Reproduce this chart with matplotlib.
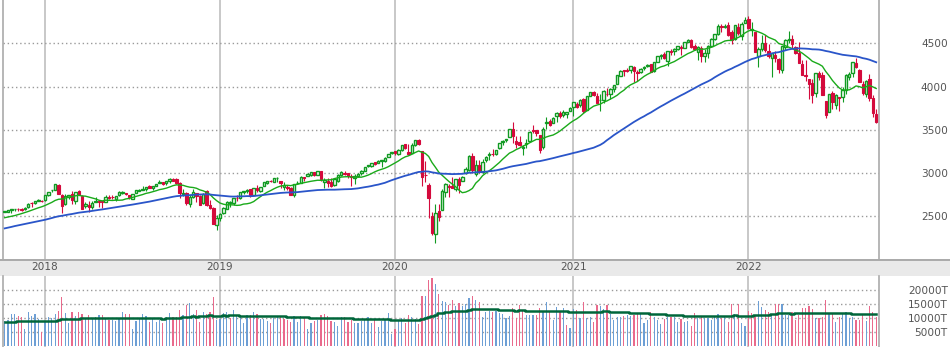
import matplotlib
matplotlib.use("Agg")
import matplotlib.pyplot as plt
import matplotlib.transforms as mtransforms
from matplotlib.patches import Rectangle
from matplotlib.lines import Line2D
import numpy as np
import pandas as pd

# weekly candles, week of 2017-10-09 .. week of 2022-09-26
opens = [
    2551, 2554, 2578, 2583, 2588, 2580, 2580, 2603, 2657, 2652, 2680, 2683,
    2684, 2746, 2799, 2810, 2867, 2741, 2637, 2722, 2757, 2681, 2790, 2740, 2619, 2634, 2612, 2670, 2675, 2675,
    2671, 2722, 2725, 2705, 2741, 2775, 2764, 2742, 2704, 2769, 2796, 2804, 2819, 2849, 2827, 2853, 2885, 2897,
    2881, 2903, 2926, 2926, 2886, 2763, 2773, 2641, 2726, 2773, 2730, 2649, 2790, 2630, 2591, 2401,
    2476, 2535, 2584, 2652, 2659, 2712, 2712, 2780, 2792, 2814, 2747, 2830, 2797, 2849, 2888, 2912, 2898, 2941,
    2908, 2840, 2841, 2832, 2752, 2885, 2886, 2952, 2971, 2980, 3017, 2981, 3024, 2898, 2907, 2901, 2867, 2910,
    2981, 2996, 2997, 2968, 2945, 2966, 2997, 3029, 3078, 3081, 3123, 3117, 3143, 3141, 3183, 3227,
    3250, 3218, 3271, 3334, 3248, 3236, 3319, 3380, 3258, 2974, 2864, 2509, 2291, 2558, 2579, 2782, 2846, 2854,
    2815, 2937, 2913, 3005, 3038, 3199, 2994, 3094, 3018, 3155, 3205, 3225, 3219, 3288, 3356, 3380, 3419, 3509,
    3371, 3364, 3285, 3334, 3367, 3500, 3493, 3441, 3296, 3584, 3600, 3579, 3654, 3694, 3675, 3684, 3723,
    3764, 3803, 3782, 3856, 3732, 3892, 3939, 3886, 3842, 3844, 3914, 3917, 3969, 4034, 4124, 4185, 4186, 4192,
    4229, 4169, 4168, 4216, 4232, 4255, 4174, 4285, 4356, 4372, 4296, 4410, 4407, 4438, 4462, 4450, 4514, 4536,
    4474, 4402, 4450, 4348, 4385, 4474, 4553, 4610, 4702, 4689, 4712, 4634, 4548, 4688, 4588, 4733,
    4778, 4656, 4632, 4357, 4432, 4506, 4412, 4333, 4363, 4322, 4188, 4462, 4541, 4548, 4462, 4385, 4255, 4131,
    4082, 4041, 3920, 4151, 4134, 3838, 3702, 3920, 3792, 3880, 3883, 3965, 4112, 4158, 4276, 4195, 4034, 3910,
    4083, 3873, 3682,
]
highs = [
    2557, 2575, 2582, 2588, 2598, 2597, 2604, 2657, 2665, 2680, 2695, 2685,
    2744, 2787, 2810, 2873, 2870, 2763, 2754, 2748, 2789, 2787, 2802, 2742, 2660, 2673, 2680, 2718, 2683, 2683,
    2742, 2742, 2742, 2736, 2791, 2790, 2774, 2743, 2760, 2802, 2816, 2848, 2842, 2863, 2855, 2877, 2916, 2900,
    2912, 2941, 2940, 2940, 2894, 2816, 2779, 2741, 2816, 2775, 2747, 2767, 2800, 2686, 2607, 2520,
    2539, 2604, 2675, 2681, 2708, 2744, 2786, 2794, 2814, 2816, 2831, 2860, 2836, 2894, 2910, 2916, 2946, 2955,
    2913, 2893, 2865, 2841, 2876, 2904, 2964, 2955, 2996, 3018, 3017, 3028, 3027, 2945, 2943, 2939, 2940, 2985,
    3021, 3022, 3002, 2993, 2993, 3000, 3034, 3067, 3098, 3121, 3127, 3154, 3151, 3183, 3226, 3248,
    3258, 3282, 3330, 3338, 3333, 3347, 3385, 3393, 3259, 3137, 2883, 2553, 2637, 2641, 2819, 2880, 2868, 2955,
    2930, 2955, 2969, 3068, 3211, 3233, 3155, 3155, 3166, 3199, 3238, 3280, 3272, 3352, 3387, 3399, 3509, 3588,
    3426, 3428, 3320, 3393, 3486, 3550, 3502, 3442, 3530, 3646, 3628, 3645, 3706, 3712, 3726, 3711, 3760,
    3827, 3827, 3860, 3870, 3887, 3937, 3951, 3929, 3915, 3960, 3983, 3978, 4020, 4130, 4186, 4195, 4219, 4238,
    4236, 4188, 4214, 4234, 4256, 4262, 4286, 4356, 4372, 4394, 4415, 4429, 4441, 4468, 4480, 4513, 4546, 4549,
    4492, 4466, 4465, 4430, 4476, 4559, 4608, 4718, 4719, 4717, 4744, 4653, 4713, 4732, 4740, 4808,
    4819, 4749, 4632, 4453, 4595, 4590, 4490, 4385, 4416, 4329, 4465, 4546, 4637, 4593, 4471, 4513, 4308, 4307,
    4082, 4090, 4158, 4177, 4169, 3838, 3914, 3946, 3918, 3880, 3999, 4140, 4167, 4280, 4325, 4203, 4062, 4077,
    4140, 3900, 3736,
]
lows = [
    2545, 2547, 2544, 2566, 2566, 2557, 2576, 2598, 2605, 2648, 2676, 2667,
    2683, 2736, 2777, 2808, 2759, 2533, 2634, 2699, 2648, 2647, 2744, 2586, 2594, 2554, 2586, 2660, 2612, 2594,
    2660, 2701, 2704, 2676, 2735, 2753, 2742, 2698, 2698, 2764, 2790, 2799, 2795, 2825, 2802, 2851, 2884, 2864,
    2864, 2886, 2903, 2874, 2710, 2738, 2628, 2604, 2717, 2671, 2631, 2637, 2621, 2584, 2409, 2347,
    2444, 2525, 2582, 2612, 2628, 2681, 2702, 2760, 2775, 2722, 2741, 2785, 2785, 2849, 2873, 2896, 2897, 2900,
    2825, 2801, 2805, 2751, 2728, 2873, 2883, 2913, 2962, 2967, 2967, 2980, 2914, 2822, 2840, 2834, 2853, 2892,
    2964, 2978, 2939, 2856, 2874, 2959, 2976, 3023, 3066, 3073, 3091, 3117, 3070, 3124, 3183, 3223,
    3212, 3214, 3254, 3281, 3214, 3234, 3316, 3328, 2855, 2902, 2478, 2280, 2192, 2447, 2575, 2720, 2727, 2822,
    2798, 2766, 2909, 2988, 3025, 2999, 2966, 2999, 3000, 3127, 3155, 3201, 3209, 3280, 3330, 3355, 3414, 3349,
    3293, 3310, 3210, 3288, 3361, 3459, 3424, 3234, 3280, 3511, 3545, 3579, 3594, 3633, 3648, 3636, 3723,
    3663, 3750, 3765, 3694, 3726, 3885, 3885, 3805, 3723, 3806, 3885, 3853, 3935, 4034, 4118, 4118, 4165, 4160,
    4057, 4062, 4162, 4190, 4220, 4165, 4165, 4281, 4321, 4321, 4234, 4360, 4367, 4423, 4368, 4448, 4514, 4448,
    4427, 4306, 4288, 4279, 4330, 4452, 4537, 4595, 4630, 4672, 4585, 4495, 4532, 4600, 4532, 4733,
    4662, 4582, 4395, 4222, 4415, 4402, 4327, 4115, 4279, 4157, 4161, 4424, 4507, 4450, 4381, 4268, 4129, 4063,
    3859, 3811, 3876, 4074, 3900, 3637, 3702, 3738, 3742, 3722, 3819, 3911, 4079, 4111, 4218, 4057, 3907, 3883,
    3837, 3647, 3584,
]
closes = [
    2553, 2575, 2581, 2588, 2582, 2579, 2602, 2642, 2652, 2676, 2683, 2674,
    2743, 2786, 2810, 2873, 2762, 2620, 2732, 2747, 2691, 2787, 2752, 2588, 2641, 2604, 2656, 2670, 2670, 2663,
    2728, 2713, 2721, 2735, 2779, 2779, 2755, 2718, 2760, 2801, 2802, 2819, 2840, 2833, 2850, 2875, 2902, 2872,
    2905, 2930, 2914, 2886, 2767, 2768, 2659, 2723, 2781, 2736, 2633, 2760, 2633, 2600, 2417, 2486,
    2532, 2596, 2671, 2665, 2707, 2708, 2776, 2793, 2804, 2743, 2822, 2801, 2834, 2893, 2907, 2905, 2940, 2946,
    2881, 2860, 2826, 2752, 2873, 2887, 2950, 2942, 2990, 3014, 2977, 3026, 2932, 2919, 2889, 2847, 2926, 2979,
    3007, 2992, 2962, 2952, 2970, 2986, 3023, 3067, 3093, 3120, 3110, 3141, 3146, 3169, 3221, 3240,
    3235, 3265, 3330, 3295, 3226, 3328, 3380, 3338, 2954, 2972, 2711, 2305, 2541, 2489, 2790, 2875, 2837, 2831,
    2930, 2864, 2955, 3044, 3194, 3041, 3098, 3009, 3130, 3185, 3225, 3216, 3271, 3351, 3373, 3397, 3508, 3427,
    3341, 3319, 3298, 3348, 3477, 3484, 3465, 3270, 3509, 3585, 3558, 3638, 3699, 3663, 3709, 3703, 3756,
    3825, 3768, 3841, 3714, 3887, 3935, 3907, 3811, 3842, 3943, 3913, 3975, 4020, 4129, 4185, 4180, 4181, 4233,
    4174, 4156, 4204, 4230, 4247, 4166, 4281, 4352, 4370, 4327, 4412, 4395, 4437, 4468, 4442, 4509, 4535, 4459,
    4433, 4455, 4357, 4391, 4471, 4545, 4605, 4698, 4683, 4698, 4595, 4538, 4712, 4621, 4726, 4766,
    4677, 4663, 4398, 4432, 4501, 4419, 4349, 4385, 4329, 4204, 4463, 4543, 4546, 4488, 4393, 4272, 4132, 4123,
    4024, 3901, 4158, 4109, 3901, 3675, 3912, 3825, 3899, 3863, 3962, 4130, 4145, 4280, 4228, 4058, 3924, 4067,
    3873, 3693, 3586,
]
# 52 weekly closes before the first candle (only to start the moving averages)
closes_before = [
    2133, 2141, 2126, 2085, 2164, 2182, 2213, 2192, 2260, 2258, 2264, 2239,
    2277, 2275, 2271, 2295, 2297, 2316, 2351, 2367, 2383, 2373, 2378, 2344, 2363, 2356, 2329, 2349, 2384, 2399,
    2391, 2382, 2416, 2439, 2432, 2433, 2438, 2423, 2425, 2459, 2473, 2472, 2477, 2441, 2426, 2443, 2477, 2461,
    2500, 2502, 2519, 2549,
]
# weekly volume (thousands)
volumes = [
    9000, 9500, 11500, 11500, 10800, 10300, 6200, 12300, 10800, 11500, 9800, 5000,
    8600, 10500, 10000, 11500, 12600, 17600, 11900, 8300, 12300, 10800, 12300, 11500, 9800, 11200, 10100, 10500,
    11200, 11200, 9800, 9400, 9400, 9000, 9800, 12300, 11500, 11500, 6200, 9000, 9800, 11500, 10800, 8700,
    9800, 8700, 9400, 8300, 10500, 11900, 10500, 10500, 13000, 11200, 14800, 15500, 11500, 13000, 8700, 12300,
    11500, 12300, 17600, 9400,
    9800, 11900, 12300, 10100, 13000, 10800, 10500, 8300, 11200, 11200, 12300, 11500, 9800, 9800, 9000, 8300,
    10100, 10800, 10500, 9800, 9400, 8700, 10800, 8700, 10800, 10100, 6200, 8300, 9000, 9400, 11200, 11500,
    10800, 9000, 8700, 7300, 10500, 10500, 8700, 9400, 8300, 8300, 9000, 9800, 10500, 8300, 9800, 6900,
    9000, 9800, 11900, 4400,
    6200, 9000, 10100, 8300, 11200, 10500, 9800, 8000, 18000, 18000, 23700, 24400, 22300, 18700, 16200, 15800,
    14800, 16500, 14400, 15500, 14400, 15100, 17300, 18000, 16500, 15800, 10500, 12300, 12600, 12300, 12600,
    11900, 11500, 10100, 10800, 13700, 10100, 14800, 13000, 11200, 11200, 11200, 11200, 13700, 12600, 15800,
    12300, 9400, 14000, 12600, 13700, 7600, 6600,
    13300, 13000, 10100, 15800, 10100, 10500, 8700, 14800, 14400, 13300, 14800, 11500, 9400, 10500, 10500,
    10800, 11200, 10800, 11200, 11500, 11500, 8300, 9400, 12300, 10500, 9400, 8000, 9800, 10500, 10500, 10500,
    8700, 9800, 8700, 9000, 7300, 11900, 10100, 10500, 10100, 10100, 9400, 10500, 11500, 10100, 10500, 8700,
    15100, 11500, 15100, 8300, 7300,
    12600, 11900, 11200, 16200, 14000, 13000, 12300, 11500, 15100, 15100, 15100, 11200, 11200, 12300, 9400,
    11200, 13700, 13700, 14400, 13300, 10100, 10100, 10500, 16500, 11500, 11500, 8700, 10500, 11500, 12300,
    10100, 10500, 9400, 9400, 11200, 9000, 14400, 12300, 10500,
]
# volume average line, read as steps: first week of each step and its level
vol_avg_start = [0, 4, 16, 17, 23, 47, 48, 53, 56, 57, 58, 61, 62, 65, 66, 67, 70, 84, 91, 104, 115, 124,
                 125, 126, 127, 128, 129, 131, 133, 138, 139, 147, 152, 153, 155, 168, 178, 180, 186, 192,
                 197, 202, 217, 218, 223, 228, 230, 234, 235, 252]
vol_avg_level = [8700, 9040, 9400, 9760, 10120, 9760, 10120, 10470, 10830, 10470, 10830, 11190, 10830,
                 11190, 10830, 11190, 10830, 10470, 10000, 9760, 9400, 9760, 10120, 10470, 10830, 11190,
                 11900, 12260, 12610, 12970, 13330, 12970, 12610, 12970, 12610, 12260, 12610, 12260, 11900,
                 11540, 11190, 10830, 11190, 10830, 11190, 11540, 11900, 11540, 11900, 11540]

year_labels = ["2018", "2019", "2020", "2021", "2022"]
year_weeks = [12, 64, 116, 169, 221]
price_ticks = [2500, 3000, 3500, 4000, 4500]
volume_ticks = [5000, 10000, 15000, 20000]

UP = "#119a22"
DOWN = "#d40a3c"
VOL_UP = "#6d9fd5"
VOL_DOWN = "#e96a8c"
BORDER = "#aaaaaa"
LABEL = "#555555"

n = len(closes)
assert len(opens) == n and len(highs) == n and len(lows) == n and len(volumes) == n
x = np.arange(n)
o = np.array(opens, dtype=float)
h = np.array(highs, dtype=float)
l = np.array(lows, dtype=float)
c = np.array(closes, dtype=float)

all_closes = pd.Series(closes_before + closes, dtype=float)
ma13 = all_closes.rolling(13).mean().to_numpy()[-n:]
ma52 = all_closes.rolling(52).mean().to_numpy()[-n:]

W, H = 950, 347
fig = plt.figure(figsize=(W / 100, H / 100), dpi=100)


def box(x0, y0, x1, y1):
    return [x0 / W, 1 - y1 / H, (x1 - x0) / W, (y1 - y0) / H]


ax = fig.add_axes(box(2.5, 0, 879, 259))
axv = fig.add_axes(box(2.5, 276, 879, 347))

# date band between the panels
fig.add_artist(Rectangle((0, 1 - 276 / H), 1, 17 / H, transform=fig.transFigure,
                         facecolor="#e9e9e9", edgecolor="none", zorder=0))
fig.add_artist(Line2D([0, 1], [1 - 259.5 / H] * 2, transform=fig.transFigure, color=BORDER, lw=1.4))

# candles
up = c >= o
ax.vlines(x, l, h, colors=np.where(up, UP, DOWN), lw=0.8, zorder=2)
ax.bar(x[up], np.maximum(c - o, 6)[up], bottom=o[up], width=0.72,
       facecolor="white", edgecolor=UP, linewidth=1.0, zorder=3)
ax.bar(x[~up], np.maximum(o - c, 6)[~up], bottom=c[~up], width=0.72,
       facecolor=DOWN, edgecolor=DOWN, linewidth=0.8, zorder=3)
ax.plot(x, ma13, color="#1aaa1a", lw=1.0, zorder=4)
ax.plot(x, ma52, color="#2a55c9", lw=1.3, zorder=4)

ax.set_xlim(-0.65, n - 1 + 0.83)
ax.set_ylim(2007, 5000)

# volume
prev = np.concatenate([[closes_before[-1]], c[:-1]])
vcol = np.where(c >= prev, VOL_UP, VOL_DOWN)
axv.bar(x, volumes, width=0.36, color=vcol, linewidth=0, antialiased=False, zorder=2)
vol_avg = np.repeat(vol_avg_level, np.diff(vol_avg_start + [n]))
axv.step(x, vol_avg, where="mid", color="#00663a", lw=1.8, zorder=3)
axv.set_xlim(ax.get_xlim())
axv.set_ylim(-250, 25100)

for a, ticks, labels in [(ax, price_ticks, [str(t) for t in price_ticks]),
                         (axv, volume_ticks, [f"{t}T" for t in volume_ticks])]:
    a.set_xticks(year_weeks)
    a.set_yticks(ticks)
    a.set_yticklabels(labels)
    a.yaxis.tick_right()
    a.tick_params(axis="x", length=0, labelbottom=False)
    a.tick_params(axis="y", length=0, pad=49.5, labelsize=7.6, labelcolor=LABEL)
    for t in a.get_yticklabels():
        t.set_horizontalalignment("right")
    a.grid(axis="y", color="#9a9a9a", linestyle=(0, (1, 2)), lw=1.0)
    a.grid(axis="x", color="#c4c4c4", linestyle="-", lw=1.3)
    a.set_axisbelow(True)
    for s in ["top", "bottom"]:
        a.spines[s].set_visible(False)
    for s in ["left", "right"]:
        a.spines[s].set_color(BORDER)
        a.spines[s].set_linewidth(1.2)

trans = mtransforms.blended_transform_factory(ax.transData, fig.transFigure)
for wk, lab in zip(year_weeks, year_labels):
    fig.text(wk, 1 - 267.5 / H, lab, transform=trans, ha="center", va="center",
             fontsize=7.6, color=LABEL)

fig.savefig("out.png", dpi=100)
